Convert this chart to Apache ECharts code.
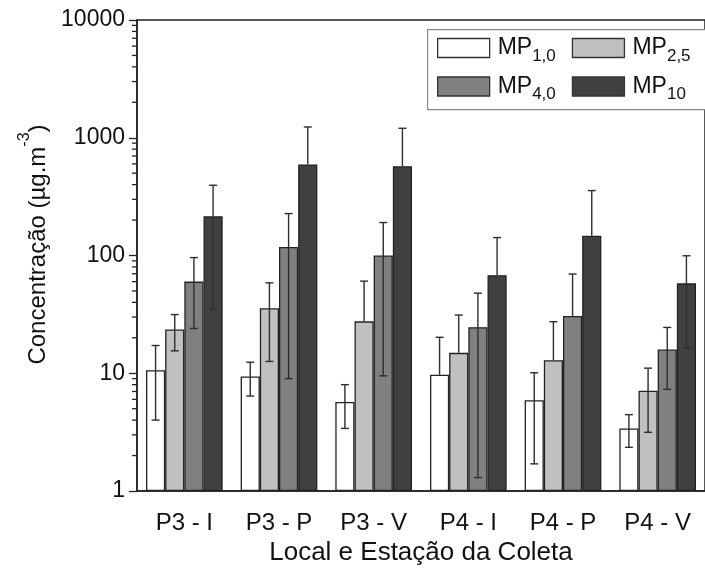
<!DOCTYPE html>
<html>
<head>
<meta charset="utf-8">
<script src="https://cdn.jsdelivr.net/npm/echarts@6/dist/echarts.min.js"></script>
<style>html,body{margin:0;padding:0;background:#fff;}#c{width:705px;height:572px;}</style>
</head>
<body>
<div id="c"></div>
<script>
const categories = ['P3 - I', 'P3 - P', 'P3 - V', 'P4 - I', 'P4 - P', 'P4 - V'];
const seriesNames = ['MP1,0', 'MP2,5', 'MP4,0', 'MP10'];
const mp1 = [10.6, 9.4, 5.7, 9.7, 5.9, 3.4];
const mp1Err = [6.6, 3.0, 2.3, 10.5, 4.2, 1.05];
const mp25 = [23.5, 35.6, 27.6, 14.9, 12.9, 7.1];
const mp25Err = [8.0, 23, 33, 16.3, 14.5, 3.95];
const mp4 = [60, 118, 100, 24.6, 30.6, 15.9];
const mp4Err = [36, 109, 90.5, 23.3, 39, 8.6];
const mp10 = [215, 594, 574, 68, 147, 58];
const mp10Err = [180, 640, 630, 74, 209, 41.5];
const yTicks = [1, 10, 100, 1000, 10000];
const yMinorTicks = [2,3,4,5,6,7,8,9,20,30,40,50,60,70,80,90,200,300,400,500,600,700,800,900,2000,3000,4000,5000,6000,7000,8000,9000];

const values = [mp1, mp25, mp4, mp10];
const errors = [mp1Err, mp25Err, mp4Err, mp10Err];
const colors = ['#ffffff', '#c0c0c0', '#808080', '#404040'];
const FONT = '"Liberation Sans", Arial, sans-serif';
const GAP = 0.19;

const chart = echarts.init(document.getElementById('c'), null, {renderer: 'canvas'});

const barSeries = seriesNames.map((n, i) => ({
  name: n,
  type: 'bar',
  xAxisIndex: 0,
  data: values[i],
  barGap: '0%',
  barCategoryGap: '19%',
  itemStyle: {color: colors[i], borderColor: '#222', borderWidth: 1.3},
  emphasis: {disabled: true},
  z: 2
}));

const errData = [];
values.forEach((arr, k) => arr.forEach((v, c) => errData.push([c, v, errors[k][c], k])));

const errSeries = {
  type: 'custom',
  xAxisIndex: 0,
  z: 5,
  silent: true,
  data: errData,
  encode: {x: 0, y: 1},
  renderItem: function (params, api) {
    const c = api.value(0), v = api.value(1), e = api.value(2), k = api.value(3);
    const cs = params.coordSys;
    const band = cs.width / categories.length;
    const groupW = band * (1 - GAP);
    const bw = groupW / 4;
    const base = api.coord([c, v]);
    const x = base[0] - groupW / 2 + bw * (k + 0.5);
    const yTop = api.coord([c, v + e])[1];
    const hasLow = v - e > 0;
    const yLow = hasLow ? api.coord([c, v - e])[1] : base[1];
    const style = {stroke: '#2e2e2e', lineWidth: 1.4};
    const cap = 4;
    const children = [
      {type: 'line', shape: {x1: x, y1: yTop, x2: x, y2: yLow}, style: style},
      {type: 'line', shape: {x1: x - cap, y1: yTop, x2: x + cap, y2: yTop}, style: style}
    ];
    if (hasLow) children.push({type: 'line', shape: {x1: x - cap, y1: yLow, x2: x + cap, y2: yLow}, style: style});
    return {type: 'group', children: children};
  }
};

const minorTickSeries = {
  type: 'custom',
  xAxisIndex: 0,
  z: 6,
  silent: true,
  clip: false,
  data: yMinorTicks.map(v => [0, v]),
  encode: {x: 0, y: 1},
  renderItem: function (params, api) {
    const cs = params.coordSys;
    const y = api.coord([0, api.value(1)])[1];
    return {type: 'line', shape: {x1: cs.x - 5, y1: y, x2: cs.x, y2: y}, style: {stroke: '#222', lineWidth: 1.3}};
  }
};

const legendRich = {
  a: {fontSize: 23, lineHeight: 23, padding: [5, 0, 5, 3], fontFamily: FONT, color: '#111'},
  s: {fontSize: 17, lineHeight: 17, padding: [16, 0, 0, 0], fontFamily: FONT, color: '#111'}
};
const legendCommon = {
  orient: 'horizontal',
  itemWidth: 52,
  itemHeight: 19,
  itemGap: 16,
  padding: 0,
  icon: 'rect',
  z: 10,
  selectedMode: false,
  itemStyle: {borderColor: '#333', borderWidth: 1.3},
  formatter: name => '{a|MP}{s|' + name.slice(2) + '}',
  textStyle: {rich: legendRich}
};

const option = {
  animation: false,
  backgroundColor: '#ffffff',
  textStyle: {fontFamily: FONT},
  grid: {left: 137, top: 20, width: 579, height: 471, show: true, borderColor: '#222', borderWidth: 1.5, containLabel: false},
  graphic: [{
    type: 'rect', left: 427, top: 29, z: 1,
    shape: {width: 300, height: 80},
    style: {fill: '#fff', stroke: '#888', lineWidth: 1.2}
  }],
  legend: [
    Object.assign({}, legendCommon, {left: 437, top: 31.5, data: ['MP1,0', 'MP2,5']}),
    Object.assign({}, legendCommon, {left: 437, top: 70, data: ['MP4,0', 'MP10']})
  ],
  xAxis: [{
    type: 'category',
    data: categories,
    boundaryGap: true,
    axisLine: {lineStyle: {color: '#222', width: 1.5}},
    axisTick: {alignWithLabel: true, length: 8, lineStyle: {color: '#222', width: 1.3}},
    axisLabel: {fontSize: 24, color: '#111', margin: 20, fontFamily: FONT},
    name: 'Local e Estação da Coleta',
    nameLocation: 'middle',
    nameGap: 46,
    nameTextStyle: {fontSize: 26, color: '#111', fontFamily: FONT}
  }, {
    type: 'category',
    data: categories,
    position: 'bottom',
    boundaryGap: true,
    axisLine: {show: false},
    axisTick: {alignWithLabel: false, length: 4, lineStyle: {color: '#222', width: 1.3}},
    axisLabel: {show: false}
  }],
  yAxis: {
    type: 'log',
    logBase: 10,
    min: 1,
    max: 10000,
    axisLine: {show: true, lineStyle: {color: '#222', width: 1.5}},
    axisTick: {show: true, length: 8, lineStyle: {color: '#222', width: 1.3}},
    splitLine: {show: false},
    axisLabel: {fontSize: 23, color: '#111', margin: 12, fontFamily: FONT,
      formatter: v => String(yTicks.reduce((a, b) => Math.abs(b - v) < Math.abs(a - v) ? b : a))},
    name: '{p|Concentração (µg.m}{s|-3}{m|)}',
    nameLocation: 'middle',
    nameRotate: 90,
    nameGap: 90,
    nameTextStyle: {
      color: '#111',
      rich: {
        p: {fontSize: 24, lineHeight: 24, padding: [10, 0, 0, 22], fontFamily: FONT, color: '#111'},
        m: {fontSize: 24, lineHeight: 24, padding: [10, 0, 0, 0], fontFamily: FONT, color: '#111'},
        s: {fontSize: 16, lineHeight: 16, padding: [0, 0, 18, 0], fontFamily: FONT, color: '#111'}
      }
    }
  },
  series: barSeries.concat([errSeries, minorTickSeries])
};
chart.setOption(option);
</script>
</body>
</html>
